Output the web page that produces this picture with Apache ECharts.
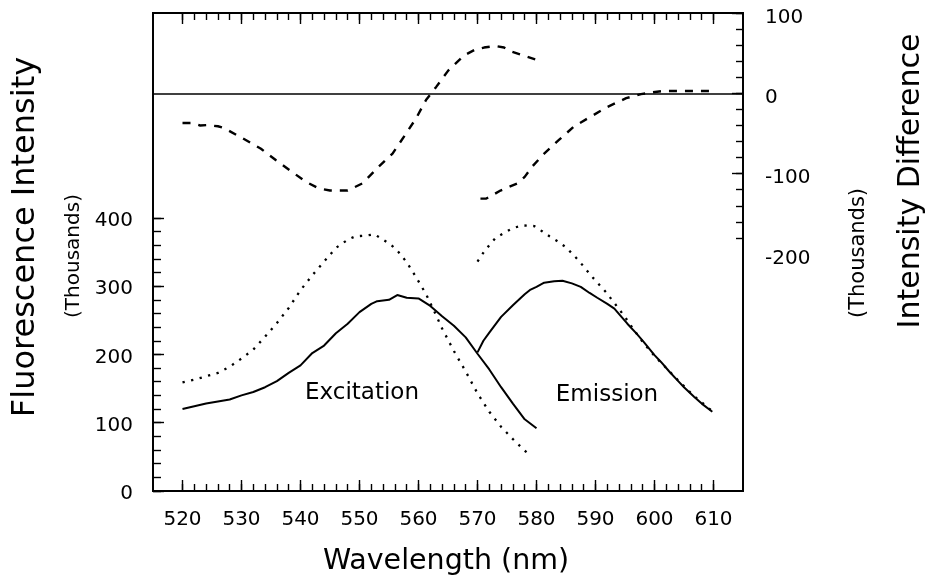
<!DOCTYPE html>
<html><head><meta charset="utf-8">
<script src="https://cdn.jsdelivr.net/npm/echarts@6/dist/echarts.min.js"></script>
<style>html,body{margin:0;padding:0;background:#fff}#c{width:939px;height:582px}</style>
</head><body><div id="c"></div>
<script>
// ---------- data ----------
const xLabels = [520,530,540,550,560,570,580,590,600,610];
const xMinorTicks = [520,522,524,526,528,530,532,534,536,538,540,542,544,546,548,550,552,554,556,558,560,562,564,566,568,570,572,574,576,578,580,582,584,586,588,590,592,594,596,598,600,602,604,606,608,610];
const leftLabels = [0,100,200,300,400];
const leftMinorTicks = [0,20,40,60,80,100,120,140,160,180,200,220,240,260,280,300,320,340,360,380,400];
const rightLabels = [-200,-100,0,100];
const rightMajorTicks = [-100,0,100];
const rightMinorTicks = [-180,-160,-140,-120,-100,-80,-60,-40,-20,0,20,40,60,80,100];

// Excitation (solid), thousands
const excNm   = [520,522,524,526,528,530,532,534,536,538,540,542,544,546,548,550,552,553,555,556.4,558,560,562,564,566,568,570,572,574,576,578,580];
const excVals = [120,124,128,131,134,140,145,152,161,173,184,202,213,231,245,262,274,278,280,287,283,282,271,256,242,225,201,178,152,128,105,92];
// Excitation reference (dotted)
const excRefNm   = [520,522,524,526,528,530,532,534,536,538,540,542,544,546,548,549.3,551,552.5,554,555.3,556.6,558,559.6,561.3,563,564,566,568,570,572,574,576,578,579];
const excRefVals = [159,163,168,173,182,194,207,226,246,268,294,316,336,356,368,373,374,376,368,361,350,335,313,288,257,238,205,175,143,116,94,76,59,52];
// Emission (solid)
const emNm   = [570,571,572,574,576,578,579,580,581.3,583,584.4,586,587.5,589,590.3,592,593.2,594,595.4,597,598.2,600,601.1,602.5,603.9,605,606.7,608,609.8];
const emVals = [203,220,232,255,272,288,295,299,305,307,308,304,299,290,283,274,267,259,245,230,218,199,189,175,162,152,138,128,116];
// Emission reference (dotted)
const emRefNm   = [570,571,572,573,574.5,576,577.6,579.6,581,582.2,583.5,585,587.2,589.5,591.8,594.9,596.5,598.2,600,601.1,603.9,606.7,609.8];
const emRefVals = [336,349,360,370,378,385,389,388,380,373,366,357,337,313,291,256,236,216,198,188,163,139,117];
// Intensity differences (dashed), thousands
const excDiffNm   = [520,521.5,523,524.2,526,527,530.2,533.3,535.8,538.6,540.9,543,545,548,550.5,553.3,555.6,557.9,559.6,561.3,563,565,567.7,569.5,571.1,573,574.5,575.7,578.2,579.9];
const excDiffVals = [-37,-37,-40,-39.5,-41,-43,-56,-69,-83,-98,-110,-118,-121,-121,-112,-91,-75,-50,-31,-8,8,28,47,54,57,59,57,52,46,42];
const emDiffNm   = [570.5,571.5,573.9,576.8,578,579.3,581.3,583.8,586.4,589.2,592,595.2,597.7,599.4,601.6,605,608.4,609.5];
const emDiffVals = [-131,-131,-121,-112,-104,-91,-75,-58,-41,-29,-17,-6,-1,1,3,3,3,3];

// ---------- chart ----------
const FONT = 'DejaVu Sans';
const X_MIN = 515, X_MAX = 615;
const pairs = (xs, ys) => xs.map((x, i) => [x, ys[i]]);

function xAxisDef(pos, ticks, len, labels) {
  return {
    type: 'value', position: pos, min: X_MIN, max: X_MAX,
    axisLine: {show: true, onZero: false, lineStyle: {color: '#000', width: 1.8}},
    axisTick: {show: true, inside: true, length: len, customValues: ticks, lineStyle: {color: '#000', width: 1.4}},
    axisLabel: labels ? {show: true, customValues: labels, color: '#000', fontFamily: FONT, fontSize: 20, margin: 19} : {show: false},
    splitLine: {show: false}
  };
}
function yAxisDef(pos, min, max, ticks, len, labels, margin, shift) {
  return {
    type: 'value', position: pos, min: min, max: max,
    axisLine: {show: true, onZero: false, lineStyle: {color: '#000', width: 1.8}},
    axisTick: {show: true, inside: true, length: len, customValues: ticks, lineStyle: {color: '#000', width: 1.4}},
    axisLabel: labels ? {show: true, customValues: labels, color: '#000', fontFamily: FONT, fontSize: 20, margin: margin,
                         verticalAlign: 'top', lineHeight: shift * 2} : {show: false},
    splitLine: {show: false}
  };
}

const chart = echarts.init(document.getElementById('c'), null, {renderer: 'canvas'});
const blackLine = (w, type) => ({color: '#000', width: w, type: type, cap: 'butt'});

chart.setOption({
  backgroundColor: '#fff',
  animation: false,
  grid: {left: 153, right: 196, top: 13, bottom: 91, containLabel: false},
  xAxis: [
    xAxisDef('bottom', xLabels, 11, xLabels),
    xAxisDef('bottom', xMinorTicks, 7, null),
    xAxisDef('top', xLabels, 11, null),
    xAxisDef('top', xMinorTicks, 7, null)
  ],
  yAxis: [
    yAxisDef('left', 0, 700, leftLabels, 11, leftLabels, 20, 3),
    yAxisDef('left', 0, 700, leftMinorTicks, 8, null, 0, 0),
    yAxisDef('right', -495, 100, rightMajorTicks, 11, rightLabels, 22, 4.5),
    yAxisDef('right', -495, 100, rightMinorTicks, 7, null, 0, 0)
  ],
  series: [
    {type: 'line', name: 'Excitation', xAxisIndex: 0, yAxisIndex: 0, data: pairs(excNm, excVals),
     showSymbol: false, symbol: 'none', lineStyle: blackLine(2, 'solid'), z: 3},
    {type: 'line', name: 'Emission', xAxisIndex: 0, yAxisIndex: 0, data: pairs(emNm, emVals),
     showSymbol: false, symbol: 'none', lineStyle: blackLine(2, 'solid'), z: 3},
    {type: 'line', name: 'Excitation ref', xAxisIndex: 0, yAxisIndex: 0, data: pairs(excRefNm, excRefVals),
     showSymbol: false, symbol: 'none', lineStyle: blackLine(2.3, [2.3, 6.5]), z: 2},
    {type: 'line', name: 'Emission ref', xAxisIndex: 0, yAxisIndex: 0, data: pairs(emRefNm, emRefVals),
     showSymbol: false, symbol: 'none', lineStyle: blackLine(2.3, [2.3, 6.5]), z: 2},
    {type: 'line', name: 'Excitation diff', xAxisIndex: 0, yAxisIndex: 2, data: pairs(excDiffNm, excDiffVals),
     showSymbol: false, symbol: 'none', lineStyle: blackLine(2.4, [8, 8]), z: 2,
     markLine: {silent: true, symbol: 'none', label: {show: false},
                lineStyle: {color: '#000', width: 1.7, type: 'solid'}, data: [{yAxis: 0}]}},
    {type: 'line', name: 'Emission diff', xAxisIndex: 0, yAxisIndex: 2, data: pairs(emDiffNm, emDiffVals),
     showSymbol: false, symbol: 'none', lineStyle: blackLine(2.4, [8, 8]), z: 2}
  ],
  graphic: [
    {type: 'text', x: 26, y: 237, rotation: Math.PI / 2,
     style: {text: 'Fluorescence Intensity', font: '32px "DejaVu Sans"', fill: '#000', textAlign: 'center', textVerticalAlign: 'middle'}},
    {type: 'text', x: 74, y: 256, rotation: Math.PI / 2,
     style: {text: '(Thousands)', font: '20px "DejaVu Sans"', fill: '#000', textAlign: 'center', textVerticalAlign: 'middle'}},
    {type: 'text', x: 859, y: 253, rotation: Math.PI / 2,
     style: {text: '(Thousands)', font: '21px "DejaVu Sans"', fill: '#000', textAlign: 'center', textVerticalAlign: 'middle'}},
    {type: 'text', x: 911, y: 181, rotation: Math.PI / 2,
     style: {text: 'Intensity Difference', font: '30px "DejaVu Sans"', fill: '#000', textAlign: 'center', textVerticalAlign: 'middle'}},
    {type: 'text', x: 446, y: 562,
     style: {text: 'Wavelength (nm)', font: '28.5px "DejaVu Sans"', fill: '#000', textAlign: 'center', textVerticalAlign: 'middle'}},
    {type: 'text', x: 362, y: 393,
     style: {text: 'Excitation', font: '23px "DejaVu Sans"', fill: '#000', textAlign: 'center', textVerticalAlign: 'middle'}},
    {type: 'text', x: 607, y: 395,
     style: {text: 'Emission', font: '23px "DejaVu Sans"', fill: '#000', textAlign: 'center', textVerticalAlign: 'middle'}}
  ]
});
</script>
</body></html>
